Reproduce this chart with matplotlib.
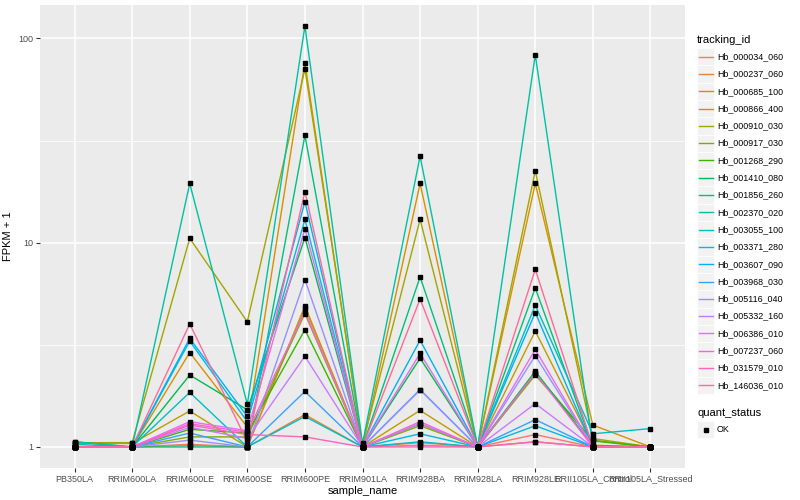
import numpy as np
import matplotlib.pyplot as plt
from matplotlib.patches import Rectangle
from matplotlib.lines import Line2D

plt.rcParams['font.family'] = ['Liberation Sans', 'DejaVu Sans']

# data to plot
samples = ['PB350LA', 'RRIM600LA', 'RRIM600LE', 'RRIM600SE', 'RRIM600PE', 'RRIM901LA',
           'RRIM928BA', 'RRIM928LA', 'RRIM928LE', 'RRII105LA_Control', 'RRII105LA_Stressed']
tracking_ids = ['Hb_000034_060', 'Hb_000237_060', 'Hb_000685_100', 'Hb_000866_400',
                'Hb_000910_030', 'Hb_000917_030', 'Hb_001268_290', 'Hb_001410_080',
                'Hb_001856_260', 'Hb_002370_020', 'Hb_003055_100', 'Hb_003371_280',
                'Hb_003607_090', 'Hb_003968_030', 'Hb_005116_040', 'Hb_005332_160',
                'Hb_006386_010', 'Hb_007237_060', 'Hb_031579_010', 'Hb_146036_010']

# FPKM + 1, one row per tracking_id, one column per sample
fpkm = [
    [1.00, 1.00, 1.03, 1.00, 4.80, 1.00, 1.02, 1.00, 1.15, 1.00, 1.00],
    [1.00, 1.00, 1.02, 1.00, 1.44, 1.00, 1.05, 1.00, 1.06, 1.00, 1.00],
    [1.00, 1.00, 2.90, 1.25, 76.0, 1.00, 19.5, 1.00, 19.5, 1.28, 1.00],
    [1.04, 1.04, 1.50, 1.00, 4.90, 1.00, 1.51, 1.00, 3.69, 1.02, 1.00],
    [1.05, 1.05, 10.5, 4.10, 71.0, 1.03, 13.0, 1.00, 22.5, 1.10, 1.00],
    [1.00, 1.00, 1.12, 1.12, 4.50, 1.00, 1.27, 1.00, 2.25, 1.08, 1.00],
    [1.00, 1.00, 1.22, 1.17, 3.75, 1.00, 1.30, 1.00, 2.30, 1.07, 1.00],
    [1.00, 1.00, 2.25, 1.52, 10.6, 1.00, 2.72, 1.00, 2.35, 1.01, 1.00],
    [1.06, 1.00, 1.00, 1.00, 33.5, 1.00, 6.80, 1.00, 6.00, 1.00, 1.00],
    [1.06, 1.00, 19.5, 1.62, 115., 1.04, 26.5, 1.00, 83.0, 1.01, 1.00],
    [1.03, 1.00, 1.85, 1.00, 1.41, 1.00, 1.06, 1.00, 4.94, 1.16, 1.23],
    [1.00, 1.00, 3.30, 1.33, 13.0, 1.00, 1.16, 1.00, 1.27, 1.00, 1.00],
    [1.00, 1.00, 3.40, 1.41, 15.9, 1.00, 3.33, 1.00, 4.55, 1.00, 1.00],
    [1.00, 1.00, 1.17, 1.00, 1.87, 1.00, 1.91, 1.00, 1.36, 1.00, 1.00],
    [1.00, 1.00, 1.08, 1.00, 6.60, 1.00, 1.90, 1.00, 2.80, 1.00, 1.00],
    [1.00, 1.00, 1.25, 1.10, 2.78, 1.00, 1.30, 1.00, 1.63, 1.00, 1.00],
    [1.00, 1.00, 1.33, 1.20, 11.7, 1.00, 2.87, 1.00, 3.00, 1.00, 1.00],
    [1.00, 1.00, 1.30, 1.18, 4.60, 1.00, 1.33, 1.00, 2.30, 1.00, 1.00],
    [1.00, 1.00, 1.28, 1.15, 1.12, 1.00, 1.00, 1.00, 1.06, 1.00, 1.00],
    [1.00, 1.00, 4.00, 1.06, 17.8, 1.00, 5.30, 1.00, 7.40, 1.00, 1.00],
]


def hcl(h, c=100.0, l=65.0):
    # R's hcl() -> sRGB (CIE-LUV, D65)
    xn, yn, zn = 95.047, 100.0, 108.883
    u = c * np.cos(np.radians(h))
    v = c * np.sin(np.radians(h))
    y = yn * ((l + 16) / 116) ** 3
    d = xn + 15 * yn + 3 * zn
    un, vn = 4 * xn / d, 9 * yn / d
    up = u / (13 * l) + un
    vp = v / (13 * l) + vn
    x = 9.0 * y * up / (4 * vp)
    z = -x / 3 - 5 * y + 3 * y / vp
    xyz = np.array([x, y, z]) / 100
    m = np.array([[3.240479, -1.537150, -0.498535],
                  [-0.969256, 1.875992, 0.041556],
                  [0.055648, -0.204043, 1.057311]])
    rgb = m @ xyz
    rgb = np.where(rgb <= 0.0031308, 12.92 * rgb, 1.055 * np.clip(rgb, 0, None) ** (1 / 2.4) - 0.055)
    return tuple(np.clip(rgb, 0, 1))


n = len(tracking_ids)
hues = np.linspace(15, 375, n + 1)[:n]
colors = [hcl(h) for h in hues]

fig = plt.figure(figsize=(8, 5), dpi=100)
ax = fig.add_axes([40 / 800, 1 - 468 / 500, 645 / 800, 463 / 500])
ax.set_facecolor('#EBEBEB')

xpos = np.arange(len(samples))
for i, tid in enumerate(tracking_ids):
    ax.plot(xpos, fpkm[i], color=colors[i], lw=1.0, zorder=3)
for i, tid in enumerate(tracking_ids):
    ax.plot(xpos, fpkm[i], 's', color='black', ms=2.8, lw=0, zorder=4)

ax.set_yscale('log')
vals = np.array(fpkm)
lo, hi = np.log10(vals.min()), np.log10(vals.max())
pad = (hi - lo) * 0.05
ax.set_ylim(10 ** (lo - pad), 10 ** (hi + pad))
ax.set_xlim(-0.6, len(samples) - 0.4)

ax.set_yticks([1, 10, 100])
ax.set_yticklabels(['1', '10', '100'])
ax.set_yticks([10 ** 0.5, 10 ** 1.5], minor=True)
ax.yaxis.set_minor_formatter(plt.NullFormatter())
ax.set_xticks(xpos)
ax.set_xticklabels(samples)

ax.grid(True, which='major', color='white', lw=1.1, zorder=0)
ax.grid(True, which='minor', axis='y', color='white', lw=0.55, zorder=0)
ax.set_axisbelow(True)
for s in ax.spines.values():
    s.set_visible(False)
ax.tick_params(which='major', length=2.8, width=0.8, color='#333333',
               labelsize=6.5, labelcolor='#4D4D4D', pad=2)
ax.tick_params(which='minor', length=0)

ax.set_xlabel('sample_name', fontsize=8, color='black', labelpad=2)
ax.set_ylabel('FPKM + 1', fontsize=8, color='black', labelpad=4)

# legend (ggplot style), drawn in figure pixels
W, H = 800, 500


def fx(px):
    return px / W


def fy(py):
    return 1 - py / H


key = 17.3
fig.text(fx(697), fy(40), 'tracking_id', fontsize=8, va='center', ha='left')
y0 = 48
for i, tid in enumerate(tracking_ids):
    top = y0 + i * key
    fig.add_artist(Rectangle((fx(697), fy(top + key)), key / W, key / H,
                             transform=fig.transFigure, facecolor='#F2F2F2',
                             edgecolor='white', lw=0.5))
    fig.add_artist(Line2D([fx(699), fx(712.5)], [fy(top + key / 2)] * 2,
                          transform=fig.transFigure, color=colors[i], lw=1.0))
    fig.text(fx(717), fy(top + key / 2), tid, fontsize=6.4, va='center', ha='left')

fig.text(fx(697), fy(413), 'quant_status', fontsize=8, va='center', ha='left')
fig.add_artist(Rectangle((fx(697), fy(421 + key)), key / W, key / H,
                         transform=fig.transFigure, facecolor='#F2F2F2',
                         edgecolor='white', lw=0.5))
fig.add_artist(Line2D([fx(697 + key / 2)], [fy(421 + key / 2)], transform=fig.transFigure,
                      marker='s', color='black', ms=2.8, lw=0))
fig.text(fx(717), fy(421 + key / 2), 'OK', fontsize=6.4, va='center', ha='left')

fig.savefig('out.png', dpi=100)
